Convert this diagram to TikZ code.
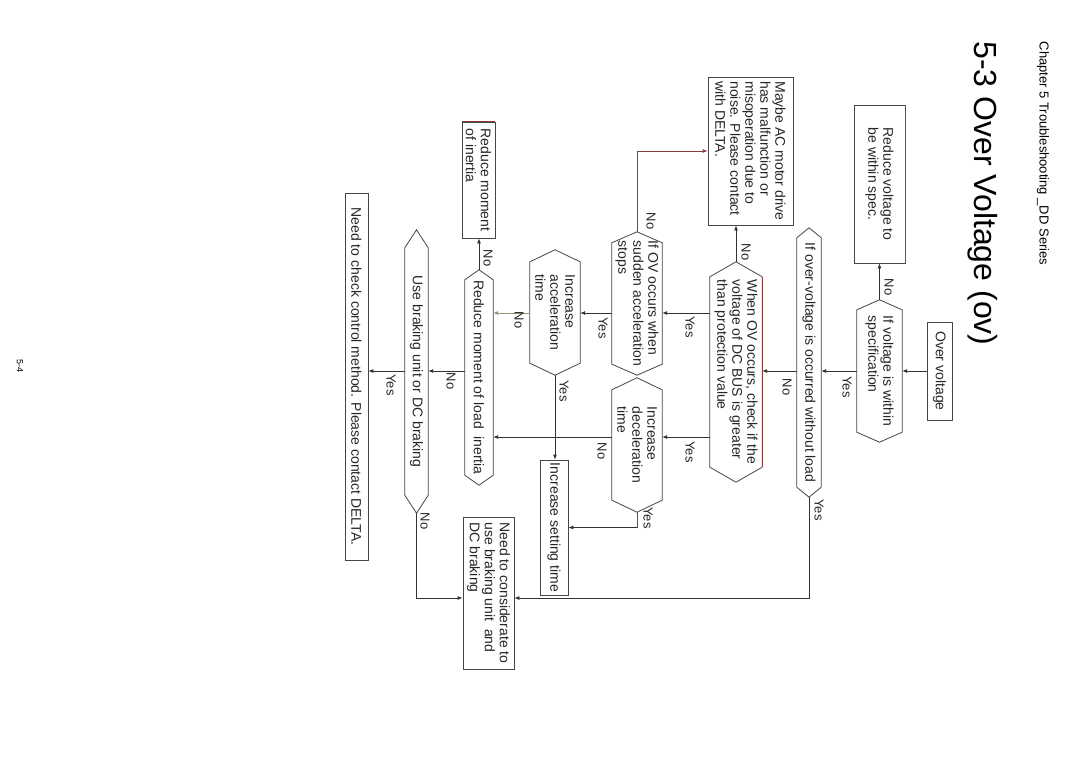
\documentclass[tikz,border=0pt]{standalone}
\usepackage{fontspec}
\setmainfont{Liberation Sans}
\usetikzlibrary{arrows.meta,calc}
\definecolor{linec}{RGB}{50,50,50}
\definecolor{boxc}{RGB}{70,70,70}
\definecolor{redc}{RGB}{140,60,60}
\definecolor{olivec}{RGB}{150,145,110}
\tikzset{
  base/.style={rotate=-90, font=\fontsize{14}{15}\selectfont, inner sep=0pt, align=left, text=black!85},
  box/.style={base, draw=boxc, line width=0.8pt},
  hexn/.style={base},
  arr/.style={draw=linec, line width=0.8pt, -{Latex[length=5pt,width=4pt]}},
  accent/.style={draw=redc, line width=0.8pt},
  lbl/.style={rotate=-90, font=\fontsize{13}{13}\selectfont, inner sep=0pt, text=black!85},
}
\newcommand\hexo[2]{\draw[draw=boxc, line width=0.8pt] (#1.west) -- ($(#1.north west)+(0,#2)$) -- ($(#1.north east)+(0,-#2)$) -- (#1.east) -- ($(#1.south east)+(0,-#2)$) -- ($(#1.south west)+(0,#2)$) -- cycle;}
\begin{document}
\begin{tikzpicture}[x=1pt,y=-1pt]
\fill[white] (0,0) rectangle (1080,763);
\useasboundingbox (0,0) rectangle (1080,763);

% headers
\node[rotate=-90, font=\fontsize{13}{13}\selectfont, inner sep=0pt] (hdr) at (1043,153.5) {Chapter 5 Troubleshooting \_DD Series};
\node[rotate=-90, font=\fontsize{32}{32}\selectfont, inner sep=0pt] (title) at (983,193.5) {5-3 Over Voltage (ov)};
\node[rotate=-90, font=\fontsize{9}{9}\selectfont, inner sep=0pt] (pg) at (20,366) {5-4};

% boxes
\node[box, minimum width=98pt, minimum height=25pt, align=center] (OV) at (939.5,371) {Over voltage};
\node[box, minimum width=158pt, minimum height=51pt] (RV) at (879.5,184) {Reduce voltage to\\be within spec.};
\node[box, minimum width=148pt, minimum height=85pt] (MB) at (750.5,151) {Maybe AC motor drive\\has malfunction or\\misoperation due to\\noise. Please contact\\with DELTA.};
\node[box, minimum width=135pt, minimum height=28pt] (ST) at (554,527.5) {Increase setting time};
\node[box, minimum width=116pt, minimum height=33pt] (RM) at (478.5,180) {Reduce moment\\of inertia};
\node[box, minimum width=367pt, minimum height=23pt] (NC) at (356.5,376.5) {Need to check control method. Please contact DELTA.};
\node[box, minimum width=152pt, minimum height=51pt] (ND) at (488.5,593) {Need to considerate to\\use braking unit\ \ and\\DC braking};

% hexagons
\node[hexn, minimum width=142pt, minimum height=45pt] (A) at (879.5,371) {If voltage is within\\specification};
\hexo{A}{10}
\node[hexn, minimum width=269pt, minimum height=24pt] (B) at (809,362.5) {If over-voltage is occurred without load};
\hexo{B}{10}
\node[hexn, minimum width=220pt, minimum height=52pt] (C) at (736,372) {When OV occurs, check if the\\voltage of DC BUS is greater\\than protection value};
\hexo{C}{15}
\node[hexn, minimum width=143pt, minimum height=50pt] (D) at (637,303.5) {If OV occurs when\\sudden acceleration\\stops};
\hexo{D}{11}
\node[hexn, minimum width=134pt, minimum height=50pt] (E) at (637,445) {Increase\\deceleration\\time};
\hexo{E}{12}
\node[hexn, minimum width=125pt, minimum height=50pt] (F) at (555,312.5) {Increase\\acceleration\\time};
\hexo{F}{12}
\node[hexn, minimum width=215pt, minimum height=28pt] (G) at (479,377.5) {Reduce moment of load\ \ inertia};
\hexo{G}{10}
\node[hexn, minimum width=283pt, minimum height=23pt] (H) at (416.5,371.5) {Use braking unit or DC braking};
\hexo{H}{18}

% coloured edges
\draw[accent] (RV.north west) -- (RV.north east);
\draw[accent] ($(C.north west)+(0,15)$) -- ($(C.north east)+(0,-15)$);
\draw[accent] (RM.south west) -- (RM.north west);

% row coordinates
\coordinate (r1) at (0,313);
\coordinate (r2) at (0,371);
\coordinate (r3) at (0,437);
\coordinate (r4) at (0,598);

% connectors
\draw[arr] (OV.south) -- (A.north |- OV.south);
\draw[arr] (A.west) -- (A.west |- RV.east);
\draw[arr] (A.south |- r2) -- (B.north |- r2);
\draw[arr] (B.south |- r2) -- (C.north |- r2);
\draw[arr] (B.east) |- (ND.north |- r4);
\draw[arr] (C.west) -- (C.west |- MB.east);
\draw[arr] (C.south |- r1) -- (D.north |- r1);
\draw[arr] (C.south |- r3) -- (E.north |- r3);
\draw[arr, draw=redc] (D.west) |- (MB.south);
\draw[arr] (D.south |- r1) -- (F.north |- r1);
\draw[arr] (E.south |- r3) -- (G.north |- r3);
\draw[arr] (E.east) |- (ST.north);
\draw[accent] (E.east) -- (E.east |- ST.north);
\draw[arr, draw=olivec] (F.south |- r1) -- (G.north |- r1);
\draw[arr] (F.east) -- (F.east |- ST.west);
\draw[arr] (G.west) -- (G.west |- RM.east);
\draw[arr] (G.south |- r2) -- (H.north |- r2);
\draw[arr] (H.south |- r2) -- (NC.north |- r2);
\draw[arr] (H.east) |- (ND.south |- r4);

% labels
\node[lbl] (l1) at (889,287) {No};
\node[lbl] (l2) at (847,387) {Yes};
\node[lbl] (l3) at (787,387) {No};
\node[lbl] (l4) at (819,510) {Yes};
\node[lbl] (l5) at (746,252) {No};
\node[lbl] (l6) at (690,327) {Yes};
\node[lbl] (l7) at (690,452) {Yes};
\node[lbl] (l8) at (651,221) {No};
\node[lbl] (l9) at (603,328) {Yes};
\node[lbl] (l10) at (602,451) {No};
\node[lbl] (l11) at (648,518) {Yes};
\node[lbl] (l12) at (519,320) {No};
\node[lbl] (l13) at (564,391) {Yes};
\node[lbl] (l14) at (488,258) {No};
\node[lbl] (l15) at (451,381) {No};
\node[lbl] (l16) at (391,385) {Yes};
\node[lbl] (l17) at (425,521) {No};
\end{tikzpicture}
\end{document}
